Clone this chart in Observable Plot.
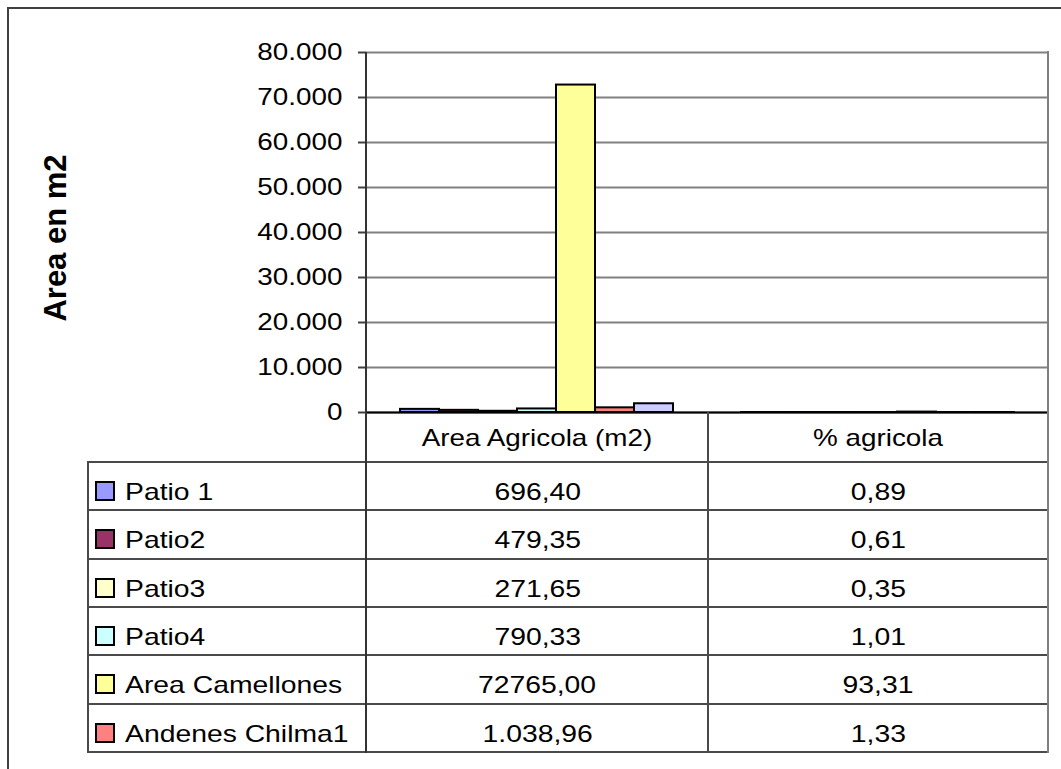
<!DOCTYPE html>
<html>
<head>
<meta charset="utf-8">
<script src="https://cdn.jsdelivr.net/npm/d3@7"></script>
<script src="https://cdn.jsdelivr.net/npm/@observablehq/plot@0.6"></script>
<style>
  html, body { margin: 0; padding: 0; background: #fff; }
  #chart { position: relative; width: 1061px; height: 769px; overflow: hidden;
           font-family: "Liberation Sans", Arial, sans-serif; color: #000; }
  #chart svg { position: absolute; left: 0; top: 0; }
  .frame { position: absolute; left: 7px; top: 7px; width: 1200px; height: 900px;
           border: 2px solid #404040; }
  .line { position: absolute; }
  .cell { position: absolute; font-size: 24px; line-height: 24px; white-space: nowrap; }
  .wide { display: inline-block; transform: scaleX(1.18); }
  .left .wide { transform-origin: 0 50%; }
  .swatch { position: absolute; width: 20px; height: 20px; box-sizing: border-box;
            border: 2px solid #000; }
  .ytitle { position: absolute; left: 56px; top: 238px; font-size: 31px; font-weight: bold;
            white-space: nowrap; transform: translate(-50%, -50%) rotate(-90deg); }
</style>
</head>
<body>
<div id="chart"></div>
<script>
// Series shown in the chart (the last one has no row in the data table)
const series = ["Patio 1", "Patio2", "Patio3", "Patio4", "Area Camellones", "Andenes Chilma1", "Andenes Chilma2"];
const seriesColors = ["#9999FF", "#993366", "#FFFFCC", "#CCFFFF", "#FFFF99", "#FF8080", "#CCCCFF"];

// Category groups along the horizontal axis
const groups = ["Area Agricola (m2)", "% agricola"];

// Values per series for each group
const areaValues = [696.40, 479.35, 271.65, 790.33, 72765.00, 1038.96, 1940.00];
const pctValues  = [0.89, 0.61, 0.35, 1.01, 93.31, 1.33, 2.49];

// Text of the data table under the chart
const tableSeries = ["Patio 1", "Patio2", "Patio3", "Patio4", "Area Camellones", "Andenes Chilma1"];
const areaLabels = ["696,40", "479,35", "271,65", "790,33", "72765,00", "1.038,96"];
const pctLabels  = ["0,89", "0,61", "0,35", "1,01", "93,31", "1,33"];

// Value axis
const yTicks = [0, 10000, 20000, 30000, 40000, 50000, 60000, 70000, 80000];
const yTitle = "Area en m2";

const rows = [];
series.forEach((s, i) => {
  rows.push({group: groups[0], series: s, value: areaValues[i]});
  rows.push({group: groups[1], series: s, value: pctValues[i]});
});

const esFormat = d3.formatLocale({decimal: ",", thousands: ".", grouping: [3], currency: ["", ""]}).format(",.0f");

const chart = document.getElementById("chart");

const frame = document.createElement("div");
frame.className = "frame";
chart.appendChild(frame);

const svg = Plot.plot({
  width: 1061,
  height: 769,
  marginLeft: 366,
  marginRight: 13,
  marginTop: 52,
  marginBottom: 357,
  style: {fontFamily: "'Liberation Sans', Arial, sans-serif", fontSize: "24px", color: "#000", background: "transparent"},
  fx: {domain: groups, padding: 0, label: null},
  x: {domain: series, paddingInner: 0, paddingOuter: 0.775, axis: null},
  y: {domain: [0, 80000]},
  color: {domain: series, range: seriesColors},
  marks: [
    Plot.gridY({ticks: yTicks, stroke: "#808080", strokeOpacity: 1, strokeWidth: 2}),
    Plot.barY(rows, {fx: "group", x: "series", y: "value", fill: "series", stroke: "#000", strokeWidth: 2}),
    Plot.ruleY([0], {stroke: "#000", strokeWidth: 2}),
    Plot.axisY({ticks: yTicks, tickFormat: esFormat, tickSize: 8, tickPadding: 16, fontSize: 24,
                label: null, stroke: "#404040", strokeWidth: 2}),
    Plot.axisFx({anchor: "bottom", tickSize: 0, tickPadding: 16, fontSize: 24, label: null})
  ]
});

// Widen the glyphs horizontally, keeping each label's anchor point fixed
svg.querySelectorAll("text").forEach((t) => {
  const x = +t.getAttribute("x") || 0;
  const y = +t.getAttribute("y") || 0;
  const tr = t.getAttribute("transform") || "";
  t.setAttribute("transform", `${tr} translate(${x},${y}) scale(1.16,1) translate(${-x},${-y})`);
});
chart.appendChild(svg);

// Data table layout
const colX = [87, 367, 708, 1048];
const headerTop = 412;
const rowTop = 462;
const rowH = 48.3;
const tableBottom = rowTop + rowH * tableSeries.length;

function line(x, y, w, h, color) {
  const d = document.createElement("div");
  d.className = "line";
  Object.assign(d.style, {left: x + "px", top: y + "px", width: w + "px", height: h + "px", background: color});
  chart.appendChild(d);
}

function cell(text, left, width, top, align) {
  const d = document.createElement("div");
  d.className = "cell" + (align === "left" ? " left" : "");
  Object.assign(d.style, {left: left + "px", top: top + "px", width: width + "px", textAlign: align});
  const s = document.createElement("span");
  s.className = "wide";
  s.textContent = text;
  d.appendChild(s);
  chart.appendChild(d);
}

// horizontal rules of the table
for (let i = 0; i <= tableSeries.length; i++) {
  const y = Math.round(rowTop + rowH * i) - 1;
  line(colX[0], y, colX[3] - colX[0], 2, "#4a4a4a");
}
// vertical rules
line(colX[0], rowTop - 1, 2, tableBottom - rowTop + 1, "#4a4a4a");
line(365, 52, 2, tableBottom - 52 + 1, "#333");
line(colX[2] - 1, headerTop, 2, tableBottom - headerTop, "#4a4a4a");
line(1047, 51, 2, tableBottom - 51 + 1, "#808080");

tableSeries.forEach((s, i) => {
  const top = rowTop + rowH * i;
  const sw = document.createElement("div");
  sw.className = "swatch";
  Object.assign(sw.style, {left: "95px", top: (top + 19) + "px", background: seriesColors[series.indexOf(s)]});
  chart.appendChild(sw);
  cell(s, 125, 240, top + 18, "left");
  cell(areaLabels[i], colX[1], colX[2] - colX[1], top + 18, "center");
  cell(pctLabels[i], colX[2], colX[3] - colX[2], top + 18, "center");
});

const title = document.createElement("div");
title.className = "ytitle";
title.textContent = yTitle;
chart.appendChild(title);
</script>
</body>
</html>
